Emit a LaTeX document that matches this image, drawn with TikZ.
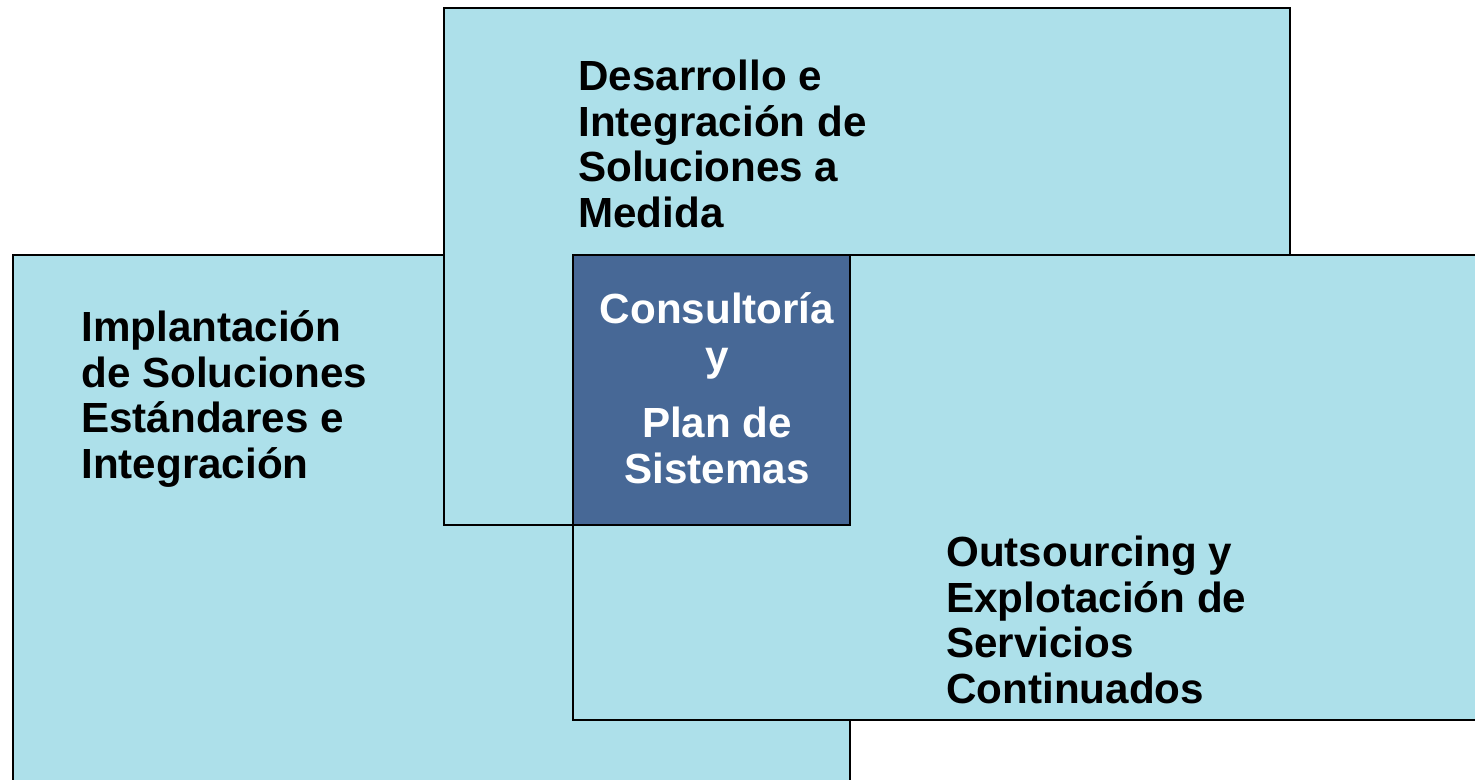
\documentclass[tikz,border=0pt]{standalone}
\usepackage{fontspec}
\setmainfont{Liberation Sans}
\usepackage{tikz}
\definecolor{paleblue}{RGB}{173,224,234}
\definecolor{deepblue}{RGB}{71,104,150}
\tikzstyle{area}=[draw=black,
	line width=1pt,
	fill=paleblue]
\tikzstyle{core}=[draw=black,
	line width=1pt,
	fill=deepblue]
\tikzstyle{label}=[inner sep=0pt,
	anchor=west,
	align=left,
	font=\fontsize{24}{26}\selectfont\bfseries]

\begin{document}
\begin{tikzpicture}[x=0.02cm,y=-0.02cm]
					\useasboundingbox (0,0) rectangle (1475,780);
					\draw[area] (13,255) rectangle (850,800);
					\draw[area] (444,8) rectangle (1290,525);
					\draw[area] (573,255) rectangle (1500,720);
					\draw[core] (573,255) rectangle (850,525);

					\node (medida) [label] at (578,144) {Desarrollo e\\Integración de\\Soluciones a\\Medida};
					\node (estandar) [label] at (81,399) {Implantación\\de Soluciones\\Estándares e\\Integración};
					\node (outsourcing) [label] at (946,620) {Outsourcing y\\Explotación de\\Servicios\\Continuados};
					\node (consultoria) [label, anchor=center, align=center, text=white] at (717,388) {Consultoría\\[1pt]y\\[12pt]Plan de\\Sistemas};
				\end{tikzpicture}
\end{document}
